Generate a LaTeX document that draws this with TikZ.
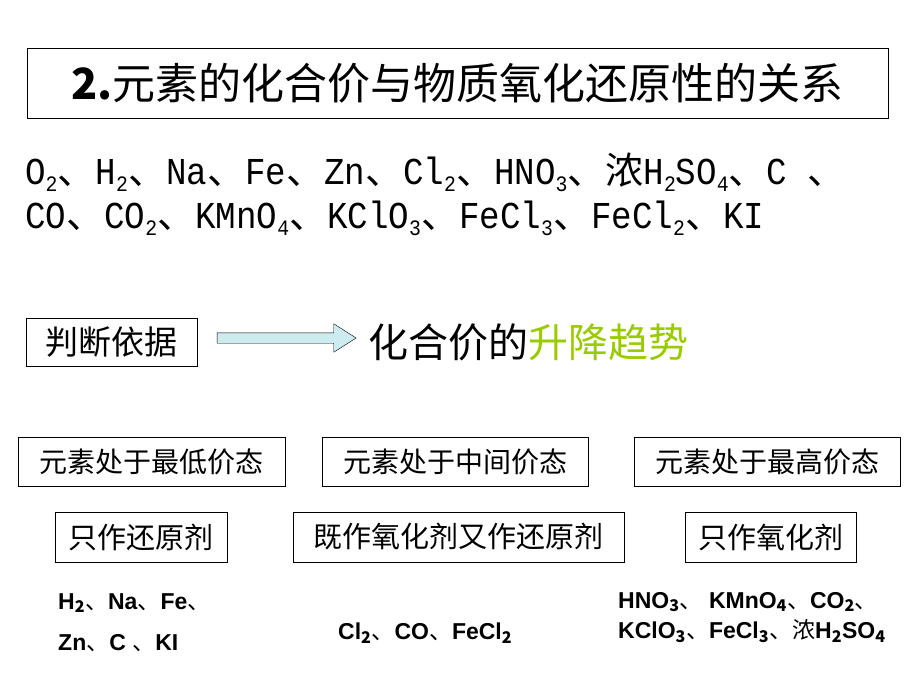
\documentclass[tikz,border=0pt]{standalone}
\usepackage{fontspec}
\setmainfont{Noto Sans CJK SC}
\newfontfamily\formfont[FakeStretch=0.9]{Liberation Mono}
\newfontfamily\boldlat{Liberation Sans}
\newcommand\fsub[1]{\raisebox{-0.35ex}{\fontsize{22}{22}\selectfont #1}}
\newcommand\dn{{\rmfamily\mdseries 、}}
\usetikzlibrary{shapes.arrows}
\definecolor{trendgreen}{RGB}{153,204,0}
\definecolor{arrowfill}{RGB}{204,236,240}
\tikzset{
  box/.style={draw, thick, inner sep=0pt, minimum height=49pt},
  formula/.style={font=\boldlat\bfseries\fontsize{23}{27}\selectfont, anchor=west, inner sep=0pt},
  substances/.style={anchor=west, inner sep=0pt, font=\formfont\fontsize{38}{42}\selectfont},
}
\begin{document}
\begin{tikzpicture}[x=1pt,y=-1pt]
  \useasboundingbox (0,0) rectangle (920,690);
  % title
  \node[box, minimum width=861pt, minimum height=70pt] (title) at (457.5,83)
    {\fontsize{43}{48}\selectfont\textbf{2.}元素的化合价与物质氧化还原性的关系};
  % substances
  \node[substances] (list1) at (25,172)
    {O\fsub{2}\dn H\fsub{2}\dn Na\dn Fe\dn Zn\dn Cl\fsub{2}\dn HNO\fsub{3}\dn{\rmfamily 浓}H\fsub{2}SO\fsub{4}\dn C \dn};
  \node[substances] (list2) at (25,218)
    {CO\dn CO\fsub{2}\dn KMnO\fsub{4}\dn KClO\fsub{3}\dn FeCl\fsub{3}\dn FeCl\fsub{2}\dn KI};
  % criterion
  \node[box, minimum width=171pt, minimum height=48pt, font=\fontsize{33}{38}\selectfont] (basis) at (111.5,342) {判断依据};
  \node[anchor=west, inner sep=0pt, font=\fontsize{40}{45}\selectfont] (trend) at (368,342)
    {化合价的\textcolor{trendgreen}{升降趋势}};
  \node[single arrow, draw, fill=arrowfill, minimum height=139pt, inner sep=5pt,
        single arrow head extend=9pt, single arrow tip angle=65] (arr) at (282.5,338) {};
  % states
  \node[box, minimum width=267pt, font=\fontsize{28}{32}\selectfont] (low) at (151.5,461.5) {元素处于最低价态};
  \node[box, minimum width=266pt, font=\fontsize{28}{32}\selectfont] (mid) at (455,461.5) {元素处于中间价态};
  \node[box, minimum width=266pt, font=\fontsize{28}{32}\selectfont] (high) at (767,461.5) {元素处于最高价态};
  % roles
  \node[box, minimum width=172pt, minimum height=50pt, font=\fontsize{29}{33}\selectfont] (red) at (141,537) {只作还原剂};
  \node[box, minimum width=331pt, minimum height=50pt, font=\fontsize{29}{33}\selectfont] (both) at (458.5,537) {既作氧化剂又作还原剂};
  \node[box, minimum width=171pt, minimum height=50pt, font=\fontsize{29}{33}\selectfont] (ox) at (770.5,537) {只作氧化剂};
  % examples
  \node[formula] (ex1) at (58,603) {H$_\mathbf{2}$\dn Na\dn Fe\dn};
  \node[formula] (ex2) at (58,643) {Zn\dn C \dn KI};
  \node[formula] (ex3) at (338,633) {Cl$_\mathbf{2}$\dn CO\dn FeCl$_\mathbf{2}$};
  \node[formula] (ex4) at (618,602) {HNO$_\mathbf{3}$\dn\ KMnO$_\mathbf{4}$\dn CO$_\mathbf{2}$\dn};
  \node[formula] (ex5) at (618,631) {KClO$_\mathbf{3}$\dn FeCl$_\mathbf{3}$\dn{\rmfamily\mdseries 浓}H$_\mathbf{2}$SO$_\mathbf{4}$};
\end{tikzpicture}
\end{document}
